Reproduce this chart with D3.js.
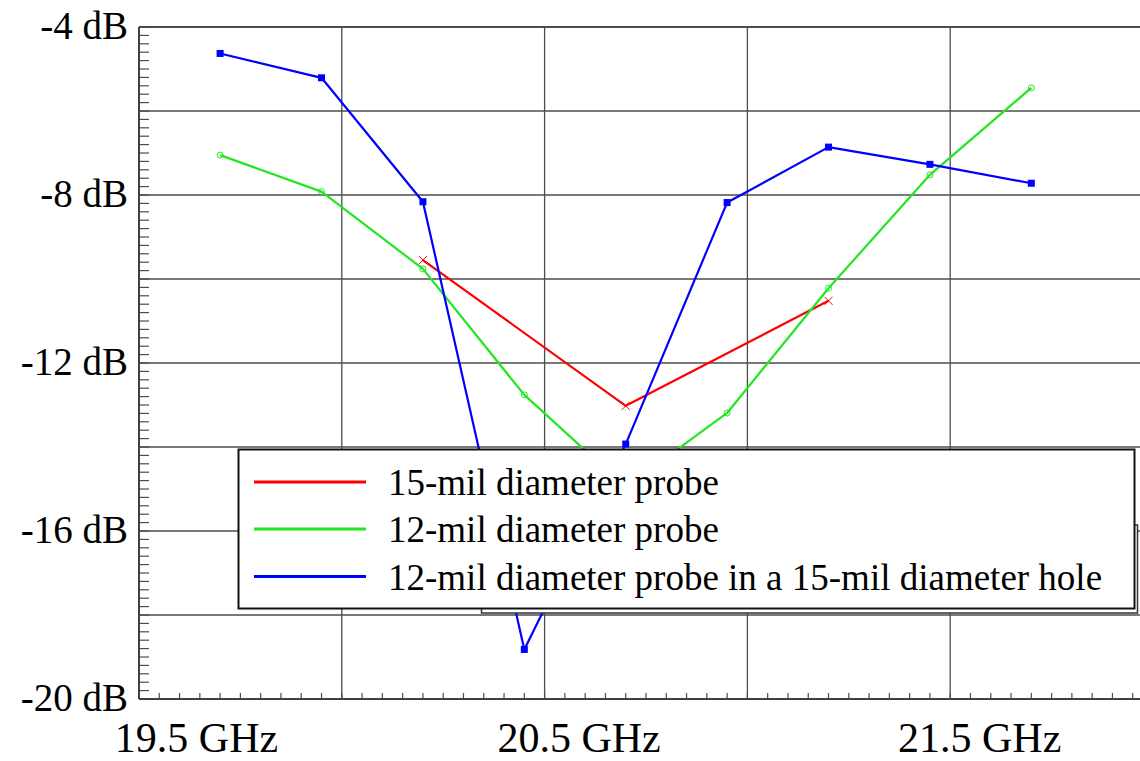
<!DOCTYPE html>
<html>
<head>
<meta charset="utf-8">
<script src="https://cdn.jsdelivr.net/npm/d3@7"></script>
<style>
  html, body { margin: 0; padding: 0; background: #fff; overflow: hidden; }
  svg { display: block; }
  text { font-family: "Liberation Serif", "Times New Roman", serif; fill: #000; }
</style>
</head>
<body>
<svg id="chart" width="1140" height="761"></svg>
<script>
// ---- data ----
const freqs = [19.7, 19.95, 20.2, 20.45, 20.7, 20.95, 21.2, 21.45, 21.7];
const probe15 = [null, null, -9.55, null, -13.02, null, -10.52, null, null];
const probe12 = [-7.05, -7.92, -9.76, -12.76, -14.96, -13.19, -10.22, -7.52, -5.45];
const probe12in15 = [-4.63, -5.21, -8.16, -18.82, -13.93, -8.18, -6.86, -7.27, -7.72];
const seriesNames = ["15-mil diameter probe", "12-mil diameter probe", "12-mil diameter probe in a 15-mil diameter hole"];
const seriesColors = ["#ff0000", "#22e622", "#0000ff"];
const seriesMarkers = ["cross", "circle", "square"];
const xTickValues = [19.5, 20.5, 21.5];
const xTickLabels = ["19.5 GHz", "20.5 GHz", "21.5 GHz"];
const yTickValues = [-4, -8, -12, -16, -20];
const yTickLabels = ["-4 dB", "-8 dB", "-12 dB", "-16 dB", "-20 dB"];

// ---- layout ----
const svg = d3.select("#chart");
const x = d3.scaleLinear().domain([19.5, 22.0]).range([139, 1153]);
const y = d3.scaleLinear().domain([-20, -4]).range([699, 27]);
const gridCol = "#4d4d4d";

// grid
const gGrid = svg.append("g");
gGrid.selectAll("line.vg").data(d3.range(20, 22.01, 0.5)).enter().append("line")
  .attr("x1", d => x(d)).attr("x2", d => x(d)).attr("y1", y(-4)).attr("y2", y(-20))
  .attr("stroke", gridCol).attr("stroke-width", 1.3);
gGrid.selectAll("line.hg").data(d3.range(-18, -3.99, 2)).enter().append("line")
  .attr("x1", x(19.5)).attr("x2", 1140).attr("y1", d => y(d)).attr("y2", d => y(d))
  .attr("stroke", gridCol).attr("stroke-width", 1.3);

// minor ticks
const yMinor = d3.range(-20, -3.99, 0.2).map(v => Math.round(v * 10) / 10);
gGrid.selectAll("line.ym").data(yMinor).enter().append("line")
  .attr("x1", x(19.5)).attr("x2", x(19.5) + 10).attr("y1", d => y(d)).attr("y2", d => y(d))
  .attr("stroke", gridCol).attr("stroke-width", 1.2);
const xMinor = d3.range(19.5, 22.0001, 0.05).map(v => Math.round(v * 100) / 100);
gGrid.selectAll("line.xm").data(xMinor).enter().append("line")
  .attr("x1", d => x(d)).attr("x2", d => x(d)).attr("y1", y(-20)).attr("y2", y(-20) - 6)
  .attr("stroke", gridCol).attr("stroke-width", 1.2);

// axes lines
svg.append("line").attr("x1", x(19.5)).attr("x2", x(19.5)).attr("y1", y(-4)).attr("y2", y(-20))
  .attr("stroke", "#404040").attr("stroke-width", 2);
svg.append("line").attr("x1", x(19.5)).attr("x2", 1140).attr("y1", y(-20)).attr("y2", y(-20))
  .attr("stroke", "#404040").attr("stroke-width", 2);
svg.append("line").attr("x1", x(19.5)).attr("x2", 1140).attr("y1", y(-4)).attr("y2", y(-4))
  .attr("stroke", "#404040").attr("stroke-width", 1.6);

// tick labels
const yAxis = d3.axisLeft(y).tickValues(yTickValues).tickSize(0).tickPadding(0)
  .tickFormat((d, i) => yTickLabels[i]);
const gy = svg.append("g").attr("transform", "translate(128,0)").call(yAxis);
gy.select(".domain").remove();
gy.selectAll("text").style("font-size", "39px").attr("dy", "0.3em")
  .style("font-family", '"Liberation Serif", serif').attr("fill", "#000");

const xShift = [57, 34, 29];
const xAxis = d3.axisBottom(x).tickValues(xTickValues).tickSize(0).tickPadding(0)
  .tickFormat((d, i) => xTickLabels[i]);
const gx = svg.append("g").attr("transform", "translate(0,699)").call(xAxis);
gx.select(".domain").remove();
gx.selectAll("text").style("font-size", "42px").attr("dy", null).attr("y", 53)
  .attr("dx", (d, i) => xShift[i])
  .style("font-family", '"Liberation Serif", serif').attr("fill", "#000");

// series
const allSeries = [probe15, probe12, probe12in15];
const line = d3.line().defined(d => d.v !== null).x(d => x(d.f)).y(d => y(d.v));
allSeries.forEach((vals, si) => {
  const pts = freqs.map((f, i) => ({ f, v: vals[i] })).filter(d => d.v !== null);
  svg.append("path").datum(pts).attr("d", line)
    .attr("fill", "none").attr("stroke", seriesColors[si]).attr("stroke-width", 2.2)
    .attr("stroke-linejoin", "round");
  const g = svg.append("g");
  pts.forEach(d => {
    const cx = x(d.f), cy = y(d.v);
    if (seriesMarkers[si] === "square") {
      g.append("rect").attr("x", cx - 3.5).attr("y", cy - 3.5).attr("width", 7).attr("height", 7)
        .attr("fill", seriesColors[si]);
    } else if (seriesMarkers[si] === "circle") {
      g.append("circle").attr("cx", cx).attr("cy", cy).attr("r", 3)
        .attr("fill", "none").attr("stroke", seriesColors[si]).attr("stroke-width", 1);
    } else {
      g.append("path").attr("d", `M${cx - 4},${cy - 4}L${cx + 4},${cy + 4}M${cx - 4},${cy + 4}L${cx + 4},${cy - 4}`)
        .attr("stroke", seriesColors[si]).attr("stroke-width", 1);
    }
  });
});

// background box behind legend
svg.append("rect").attr("x", 481.5).attr("y", 525).attr("width", 656).attr("height", 88)
  .attr("fill", "#fff").attr("stroke", "#333").attr("stroke-width", 1.5);

// legend
const lg = svg.append("g");
lg.append("rect").attr("x", 238.5).attr("y", 449.5).attr("width", 896).attr("height", 159)
  .attr("fill", "#fff").attr("stroke", "#111").attr("stroke-width", 2);
const rowY = [482, 529, 576.5];
seriesNames.forEach((name, i) => {
  lg.append("line").attr("x1", 254).attr("x2", 366).attr("y1", rowY[i]).attr("y2", rowY[i])
    .attr("stroke", seriesColors[i]).attr("stroke-width", 3.2);
  lg.append("text").attr("x", 388).attr("y", rowY[i] + 13).style("font-size", "37px").text(name);
});
</script>
</body>
</html>
